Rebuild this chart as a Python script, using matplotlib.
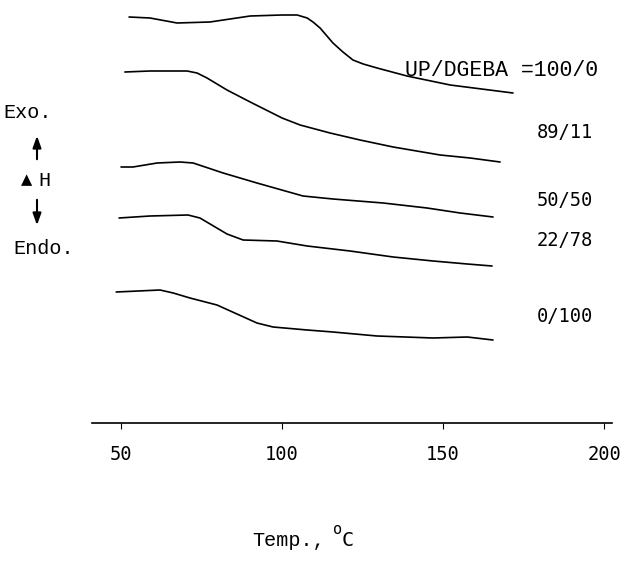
import matplotlib
matplotlib.use("Agg")
import matplotlib.pyplot as plt

# DSC traces of UP/DGEBA blends, heat flow in arbitrary units (offset per trace)
temp_100_0 = [52.5, 59.0, 67.4, 77.6, 90.1, 100.0, 104.7, 107.8, 109.6, 111.8, 115.8, 118.9,
              122.0, 125.2, 129.5, 138.8, 152.2, 171.7]
dh_100_0 = [406, 405, 400, 401, 407, 408, 408, 405, 401, 395, 380, 371,
            363, 359, 355, 347, 338, 330]

temp_89_11 = [51.2, 59.0, 70.5, 73.6, 76.7, 82.9, 90.1, 100.0, 105.6, 114.9, 124.2, 134.5,
              149.1, 158.4, 167.7]
dh_89_11 = [351, 352, 352, 350, 345, 333, 321, 305, 298, 290, 283, 276, 268, 265, 261]

temp_50_50 = [50.0, 53.7, 61.2, 68.3, 72.4, 81.7, 92.2, 106.5, 115.8, 131.4, 145.0, 155.3, 165.5]
dh_50_50 = [256, 256, 260, 261, 260, 250, 240, 227, 224, 220, 215, 210, 206]

temp_22_78 = [49.4, 59.0, 70.8, 74.5, 82.9, 87.9, 98.4, 107.8, 121.1, 134.5, 146.9, 157.5, 165.2]
dh_22_78 = [205, 207, 208, 205, 189, 183, 182, 177, 172, 166, 162, 159, 157]

temp_0_100 = [48.5, 62.1, 66.2, 71.4, 79.8, 92.2, 97.2, 107.8, 115.8, 129.5, 146.9, 157.5, 165.5]
dh_0_100 = [131, 133, 130, 125, 118, 100, 96, 93, 91, 87, 85, 86, 83]

labels = ["UP/DGEBA =100/0", "89/11", "50/50", "22/78", "0/100"]
xticks = [50, 100, 150, 200]

W, H = 627, 565
fig = plt.figure(figsize=(W / 100, H / 100), dpi=100)
ax = fig.add_axes([0, 0, 1, 1])
ax.set_xlim(12.42, 207.1)
ax.set_ylim(-142, 423)

for t, d in [(temp_100_0, dh_100_0), (temp_89_11, dh_89_11), (temp_50_50, dh_50_50),
             (temp_22_78, dh_22_78), (temp_0_100, dh_0_100)]:
    ax.plot(t, d, color="black", lw=1.2, solid_joinstyle="round", solid_capstyle="round")

# only a bottom temperature axis
for s in ["top", "left", "right"]:
    ax.spines[s].set_visible(False)
ax.spines["bottom"].set_position(("data", 0))
ax.spines["bottom"].set_bounds(41, 202.5)
ax.spines["bottom"].set_linewidth(1.2)
ax.set_yticks([])
ax.set_xticks(xticks)
ax.set_xticklabels([str(v) for v in xticks], family="DejaVu Sans Mono", fontsize=13.5)
ax.tick_params(axis="x", direction="out", length=4, width=0.8, pad=12)

mono = "Liberation Mono"
sans_mono = "DejaVu Sans Mono"


def px(x, y):
    return x / W, 1 - y / H


# composition labels
ax.text(*px(405, 70), labels[0], transform=fig.transFigure, family=mono,
        fontsize=15.5, va="center", ha="left")
for lab, y in zip(labels[1:], [132, 200, 240, 317]):
    ax.text(*px(537, y), lab, transform=fig.transFigure, family=sans_mono,
            fontsize=13.5, va="center", ha="left")

# exo / endo indicator
ax.text(*px(3, 112), "Exo.", transform=fig.transFigure, family=mono, fontsize=14.5,
        va="center", ha="left")
ax.text(*px(13, 248), "Endo.", transform=fig.transFigure, family=mono, fontsize=14.5,
        va="center", ha="left")
ax.text(*px(21, 180), "\u25b2", transform=fig.transFigure, family="DejaVu Sans",
        fontsize=10.5, va="center", ha="left")
ax.text(*px(38, 181), "H", transform=fig.transFigure, family=mono, fontsize=14.5,
        va="center", ha="left")
arrow = dict(arrowstyle="-|>,head_length=0.7,head_width=0.25", color="black", lw=1.5)
ax.annotate("", xy=px(37, 133), xytext=px(37, 162), xycoords="figure fraction",
            textcoords="figure fraction", arrowprops=arrow)
ax.annotate("", xy=px(37, 228), xytext=px(37, 197), xycoords="figure fraction",
            textcoords="figure fraction", arrowprops=arrow)

# axis title with raised degree "o"
ax.text(*px(252, 540), "Temp.,", transform=fig.transFigure, family=mono, fontsize=14.5,
        va="center", ha="left")
ax.text(*px(333, 530), "o", transform=fig.transFigure, family=sans_mono, fontsize=11,
        va="center", ha="left")
ax.text(*px(342, 540), "C", transform=fig.transFigure, family=sans_mono, fontsize=14.5,
        va="center", ha="left")

fig.savefig("out.png", dpi=100)
